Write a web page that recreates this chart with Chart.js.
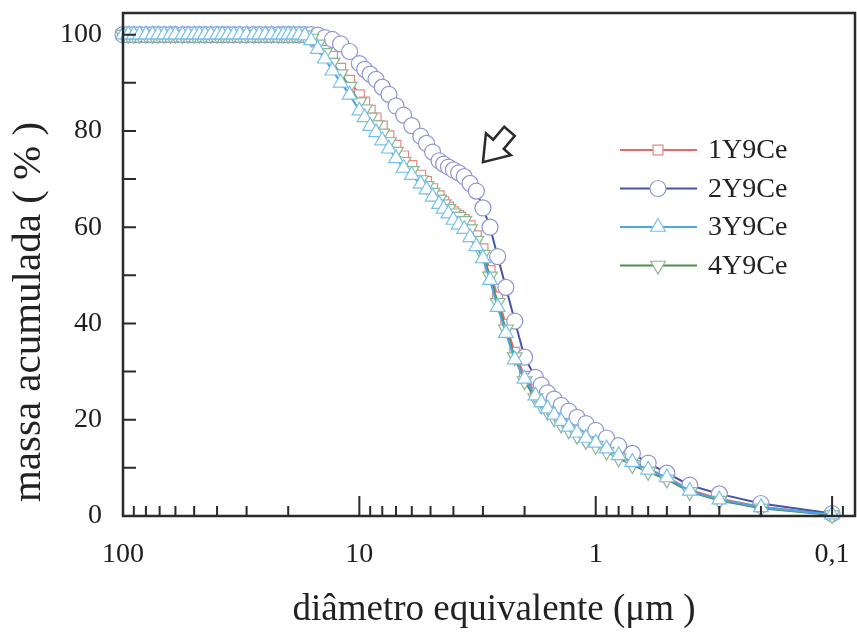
<!DOCTYPE html>
<html><head><meta charset="utf-8">
<script src="https://cdn.jsdelivr.net/npm/chart.js@4/dist/chart.umd.min.js"></script>
<style>html,body{margin:0;padding:0;background:#fff}#wrap{width:857px;height:635px}</style>
</head><body><div id="wrap"><canvas id="c" width="857" height="635"></canvas></div>
<script>
// equivalent diameter (µm)
const diameters = [100,95,90,85,80,75,71,67,63,60,56,53,50,47.5,45,42.5,40,38,36,34,32,30,28,26.5,25,23.5,22,21,20,19,
  18,17,16,15,14,13,12,11,10,9.5,9,8.5,8,7.5,7,6.5,6,5.5,5.2,4.9,4.6,4.4,4.2,4.0,3.8,3.6,3.4,3.2,3.0,2.8,
  2.6,2.4,2.2,2.0,1.8,1.7,1.6,1.5,1.4,1.3,1.2,1.1,1.0,0.9,0.8,0.7,0.6,0.5,0.4,0.3,0.2,0.1];
// cumulative mass (%)
const s1Y9Ce = [100,100,100,100,100,100,100,100,100,100,100,100,100,100,100,100,100,100,100,100,100,100,100,100,100,100,100,100,100,100,
  100,100,99.5,98.5,97,95.5,93,90.5,87.5,86,84.3,82.7,81,79,77,74.8,72.8,70.8,69.5,68,66.5,65.3,64.2,63.2,62.4,61.6,60.3,58.2,55.5,51,
  45.5,39.8,34,29,25.5,24,22.7,21.3,20,18.8,17.6,16.5,15.4,14.2,12.8,11.3,9.8,8.1,5.4,3.6,1.9,0.3];
const s2Y9Ce = [100,100,100,100,100,100,100,100,100,100,100,100,100,100,100,100,100,100,100,100,100,100,100,100,100,100,100,100,100,100,
  100,100,100,99.9,99.4,99.0,98.1,96.5,94.0,92.8,91.8,90.7,89.1,87.6,85.2,83.3,81.1,78.9,77.4,75.6,73.8,73.1,72.5,71.9,71.3,70.5,69.1,67.5,64.0,60.0,
  53.9,47.5,40.5,33.0,28.8,27.2,25.6,24.3,23.0,21.8,20.5,19.2,17.8,16.2,14.6,13.0,11.0,8.9,6.4,4.6,2.6,0.5];
const s3Y9Ce = [100,100,100,100,100,100,100,100,100,100,100,100,100,100,100,100,100,100,100,100,100,100,100,100,100,100,100,100,100,100,
  100,99.8,98.8,97,95,92.5,90,87.5,84.2,82.8,81,79.7,78,76.3,74.3,72.3,70.8,69,67.8,66.3,64.8,63.8,62.8,61.5,60.5,59.6,57.9,56,53.5,49,
  43.4,38,32.5,28.5,25,23.6,22.3,21,19.7,18.5,17.3,16.2,15.2,14,12.6,11.2,9.6,8.0,5.2,3.4,1.8,0.3];
const s4Y9Ce = [100,100,100,100,100,100,100,100,100,100,100,100,100,100,100,100,100,100,100,100,100,100,100,100,100,100,100,100,100,100,
  100,99.9,99.2,98,96.2,94.2,91.8,89.2,86,84.5,82.8,81.2,79.5,77.7,75.7,73.6,71.7,69.8,68.6,67.2,65.8,64.8,63.8,62.9,62.2,61.3,59.6,57.2,54.3,49.8,
  44.3,38.8,33,28,24.5,23,21.7,20.3,19,17.8,16.7,15.6,14.6,13.4,12.0,10.6,9.2,7.6,5.0,3.2,1.6,0.2];
const seriesNames = ['1Y9Ce','2Y9Ce','3Y9Ce','4Y9Ce'];
const xTickValues = [100,10,1,0.1];
const xTickLabels = ['100','10','1','0,1'];
const yTickValues = [0,20,40,60,80,100];
const xMinorTicks = [90,80,70,60,50,40,30,20,9,8,7,6,5,4,3,2,0.9,0.8,0.7,0.6,0.5,0.4,0.3,0.2,0.09];
const yMinorTicks = [10,30,50,70,90];

const FONT = "'Liberation Serif','Times New Roman',serif";
const mk = arr => diameters.map((d,i)=>({x:d,y:arr[i]}));

const styles = [
  {line:'#e46a6a', pt:'#e58888', style:'rect', r:7, rot:0, order:3},
  {line:'#4455a8', pt:'#8e96d2', style:'circle', r:8, rot:0, order:2},
  {line:'#4aa6e6', pt:'#78c0ec', style:'triangle', r:8.5, rot:0, order:0},
  {line:'#4f8f4f', pt:'#8cb88c', style:'triangle', r:8.5, rot:180, order:1}
];
const allSeries = [s1Y9Ce, s2Y9Ce, s3Y9Ce, s4Y9Ce];

const datasets = allSeries.map((s,i)=>({
  label: seriesNames[i], data: mk(s), order: styles[i].order,
  borderColor: styles[i].line, borderWidth: 2,
  pointStyle: styles[i].style, pointRadius: styles[i].r, pointRotation: styles[i].rot,
  pointBorderColor: styles[i].pt, pointBackgroundColor: '#ffffff', pointBorderWidth: 1.2,
  tension: 0, clip: false
}));

const deco = {
  id: 'deco',
  afterDraw(chart) {
    const ctx = chart.ctx, a = chart.chartArea;
    const xs = chart.scales.x, ys = chart.scales.y;
    ctx.save();
    ctx.strokeStyle = '#2a2a2a';
    ctx.lineWidth = 2.5;
    ctx.strokeRect(a.left, a.top, a.right - a.left, a.bottom - a.top);
    ctx.lineWidth = 2;
    ctx.beginPath();
    xTickValues.forEach(v => { const x = xs.getPixelForValue(v); ctx.moveTo(x, a.bottom); ctx.lineTo(x, a.bottom - 20); });
    xMinorTicks.forEach(v => { const x = xs.getPixelForValue(v); ctx.moveTo(x, a.bottom); ctx.lineTo(x, a.bottom - 10); });
    yTickValues.concat(yMinorTicks).forEach(v => { const y = ys.getPixelForValue(v); ctx.moveTo(a.left, y); ctx.lineTo(a.left + 13, y); });
    ctx.stroke();

    // arrow annotation
    const tx = xs.getPixelForValue(3.0), ty = ys.getPixelForValue(73.5);
    const pts = [[0,0],[3,-29],[10.3,-22.6],[21.3,-35.5],[31.8,-26.3],[20.8,-13.4],[28,-7]];
    ctx.beginPath();
    pts.forEach((p,i)=>{ const X = tx + p[0], Y = ty + p[1]; if(i===0) ctx.moveTo(X,Y); else ctx.lineTo(X,Y); });
    ctx.closePath();
    ctx.fillStyle = '#fff'; ctx.fill();
    ctx.lineWidth = 2.5; ctx.lineJoin = 'miter'; ctx.strokeStyle = '#2a2a2a'; ctx.stroke();

    // legend
    chart.data.datasets.forEach((ds,i)=>{
      const y = 150 + 38.5*i;
      ctx.strokeStyle = ds.borderColor; ctx.lineWidth = 2;
      ctx.beginPath(); ctx.moveTo(620, y); ctx.lineTo(697, y); ctx.stroke();
      ctx.fillStyle = '#fff'; ctx.strokeStyle = ds.pointBorderColor; ctx.lineWidth = 1.2;
      Chart.helpers.drawPoint(ctx, {pointStyle: ds.pointStyle, rotation: ds.pointRotation, radius: ds.pointRadius, borderWidth: 1.2}, 658, y);
      ctx.fillStyle = '#222'; ctx.font = '28px ' + FONT; ctx.textAlign = 'left'; ctx.textBaseline = 'middle';
      ctx.fillText(ds.label, 708, y + 1);
    });

    // axis titles
    ctx.fillStyle = '#222';
    ctx.font = '37px ' + FONT; ctx.textAlign = 'center'; ctx.textBaseline = 'alphabetic';
    ctx.fillText('diâmetro equivalente (μm )', 494, 620);
    ctx.save();
    ctx.translate(40, 312); ctx.rotate(-Math.PI/2);
    ctx.font = '41px ' + FONT;
    ctx.fillText('massa acumulada ( % )', 0, 0);
    ctx.restore();
    ctx.restore();
  }
};

new Chart(document.getElementById('c'), {
  type: 'line',
  data: { datasets },
  options: {
    responsive: false, animation: false,
    layout: { autoPadding: false, padding: { top: 13, right: 2, left: 0, bottom: 0 } },
    plugins: { legend: { display: false }, tooltip: { enabled: false } },
    scales: {
      x: {
        type: 'logarithmic', reverse: true, min: 0.08, max: 100,
        grid: { display: false, drawTicks: false }, border: { display: false },
        afterBuildTicks: s => { s.ticks = xTickValues.map(v => ({value: v})); },
        afterFit: s => { s.height = 119; s.paddingLeft = 0; s.paddingRight = 0; },
        ticks: { autoSkip: false, maxRotation: 0, padding: 22, color: '#1e1e1e', font: { family: FONT, size: 28 },
          callback: v => { const i = xTickValues.indexOf(v); return i >= 0 ? xTickLabels[i] : ''; } }
      },
      y: {
        type: 'linear', min: 0, max: 104.5,
        grid: { display: false, drawTicks: false }, border: { display: false },
        afterBuildTicks: s => { s.ticks = yTickValues.map(v => ({value: v})); },
        afterFit: s => { s.width = 123; s.paddingTop = 0; s.paddingBottom = 0; },
        ticks: { padding: 21, color: '#1e1e1e', font: { family: FONT, size: 28 } }
      }
    }
  },
  plugins: [deco]
});
</script>
</body></html>
